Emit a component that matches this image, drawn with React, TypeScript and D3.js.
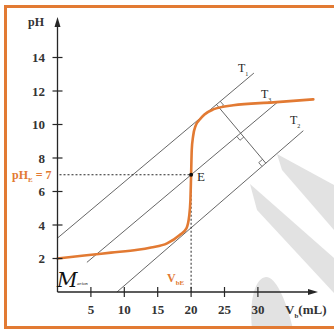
import React from "react";
import * as d3 from "d3";

// ---- data ----
const curveV = [0, 4, 8, 12, 14, 16.4, 18.3, 19.3, 19.7, 19.9, 20, 20.1, 20.3, 20.7, 21.3, 22, 23.3, 26.3, 32.3, 38.3];
const curvePH = [2.0, 2.18, 2.35, 2.52, 2.66, 2.9, 3.4, 3.8, 4.5, 5.5, 7, 8.5, 9.3, 9.95, 10.3, 10.6, 10.9, 11.15, 11.32, 11.5];
const yTicks = [2, 4, 6, 8, 10, 12, 14];
const xTicks = [5, 10, 15, 20, 25, 30];
const tangentNames = ["1", "3", "2"];
const tangentStart = [[0, 3.22], [4.4, 1.77], [8.9, 0]]; // T1, T3, T2
const tangentEnd = [[29.4, 13.07], [32.9, 11.32], [36.8, 9.63]];
const eqV = 20;
const eqPH = 7;
const tangentFootV = 23.8; // point on T1 where the perpendicular starts

const W = 334, H = 329;
const ORANGE = "#e27a33";
const INK = "#262626";

export default function App() {
  const x = d3.scaleLinear().domain([0, 30]).range([57.5, 257.9]);
  const y = d3.scaleLinear().domain([0, 14]).range([292, 57.5]);
  const pts: [number, number][] = curveV.map((v, i) => [v, curvePH[i]]);
  const line = d3.line<[number, number]>().x(d => x(d[0])).y(d => y(d[1])).curve(d3.curveMonotoneX);

  const x0 = x(0), y0 = y(0);

  const tl = tangentStart.map((s, i) => ({ a: [x(s[0]), y(s[1])], b: [x(tangentEnd[i][0]), y(tangentEnd[i][1])] }));
  const t1 = tl[0];
  const dx = t1.b[0] - t1.a[0], dy = t1.b[1] - t1.a[1];
  const len = Math.hypot(dx, dy);
  const d = [dx / len, dy / len];
  const n = [-d[1], d[0]];
  const tFoot = (x(tangentFootV) - t1.a[0]) / dx;
  const P1 = [t1.a[0] + dx * tFoot, t1.a[1] + dy * tFoot];
  const proj = (l: any) => {
    const ex = l.b[0] - l.a[0], ey = l.b[1] - l.a[1];
    const det = n[0] * (-ey) - n[1] * (-ex);
    const rx = l.a[0] - P1[0], ry = l.a[1] - P1[1];
    const s = (rx * (-ey) - ry * (-ex)) / det;
    return [P1[0] + n[0] * s, P1[1] + n[1] * s];
  };
  const P3 = proj(tl[1]);
  const P2 = proj(tl[2]);
  const sq = 5;
  const square = (p: number[], sd: number, sn: number) => {
    const a = [p[0] + d[0] * sq * sd, p[1] + d[1] * sq * sd];
    const c = [p[0] + n[0] * sq * sn, p[1] + n[1] * sq * sn];
    const b = [a[0] + n[0] * sq * sn, a[1] + n[1] * sq * sn];
    return `M${a[0]},${a[1]}L${b[0]},${b[1]}L${c[0]},${c[1]}`;
  };

  const font = "'Liberation Serif', 'DejaVu Serif', serif";
  const labelPos = [[238, 72], [261, 98], [290, 124]];

  return (
    <svg width={W} height={H} style={{ position: "absolute", left: 0, top: 0, background: "#fff" }} fontFamily={font}>
      {/* watermark */}
      <g fill="#e2e2e2">
        <path d="M277,154 L334,185 L334,230 L282,170 Z" />
        <path d="M250,184 L334,258 L334,293 L257,210 Z" />
        <path d="M252,329 C249,300 255,278 266,277 C276,277 286,300 293,329 Z" />
      </g>
      {/* frame */}
      <rect x={5.5} y={6.5} width={340} height={321} fill="none" stroke={ORANGE} strokeWidth={3} />

      {/* tangent lines */}
      {tl.map((l, i) => (
        <line key={i} x1={l.a[0]} y1={l.a[1]} x2={l.b[0]} y2={l.b[1]} stroke="#555" strokeWidth={0.9} />
      ))}
      <line x1={P1[0]} y1={P1[1]} x2={P2[0]} y2={P2[1]} stroke="#555" strokeWidth={0.9} />
      <path d={square(P1, 1, 1)} fill="none" stroke="#555" strokeWidth={0.8} />
      <path d={square(P3, -1, 1)} fill="none" stroke="#555" strokeWidth={0.8} />
      <path d={square(P2, -1, -1)} fill="none" stroke="#555" strokeWidth={0.8} />
      {tangentNames.map((t, i) => (
        <text key={t} x={labelPos[i][0]} y={labelPos[i][1]} fontSize={12} fill={INK}>
          T<tspan fontSize={6} dy={4}>{t}</tspan>
        </text>
      ))}

      {/* dashed guides */}
      <line x1={x0 + 2} y1={y(eqPH)} x2={x(eqV)} y2={y(eqPH)} stroke={INK} strokeWidth={1} strokeDasharray="2,2" />
      <line x1={x(eqV)} y1={y(eqPH)} x2={x(eqV)} y2={y0} stroke={INK} strokeWidth={1} strokeDasharray="2,2" />

      {/* titration curve */}
      <path d={line(pts) || ""} fill="none" stroke={ORANGE} strokeWidth={2.6} strokeLinecap="round" />
      <circle cx={x(eqV)} cy={y(eqPH)} r={2} fill="#111" />
      <text x={x(eqV) + 6} y={y(eqPH) + 6} fontSize={13} fill={INK}>E</text>

      {/* axes */}
      <line x1={x0} y1={y0} x2={x0} y2={24} stroke={INK} strokeWidth={1.3} />
      <path d={`M${x0},17 L${x0 - 3},27 L${x0 + 3},27 Z`} fill={INK} />
      <line x1={x0} y1={y0} x2={311} y2={y0} stroke={INK} strokeWidth={1.3} />
      <path d={`M318,${y0} L308,${y0 - 3} L308,${y0 + 3} Z`} fill={INK} />
      {yTicks.map(t => (
        <g key={t}>
          <line x1={x0 - 5} x2={x0 + 5} y1={y(t)} y2={y(t)} stroke={INK} strokeWidth={1.2} />
          <text x={45} y={y(t)} dy="0.35em" textAnchor="end" fontSize={13} fontWeight="bold" fill="#333">{t}</text>
        </g>
      ))}
      {xTicks.map(t => (
        <g key={t}>
          <line x1={x(t)} x2={x(t)} y1={y0 - 5} y2={y0 + 5} stroke={INK} strokeWidth={1.2} />
          <text x={x(t)} y={314} textAnchor="middle" fontSize={13} fontWeight="bold" fill="#333">{t}</text>
        </g>
      ))}
      <text x={36} y={26} textAnchor="middle" fontSize={12} fontWeight="bold" fill="#333">pH</text>
      <text x={285} y={314} fontSize={13} fontWeight="bold" fill="#333">
        V<tspan fontSize={7} dy={4}>b</tspan><tspan dy={-4}>(mL)</tspan>
      </text>

      {/* orange annotations */}
      <text x={12} y={179} fontSize={12} fontWeight="bold" fill={ORANGE}>
        pH<tspan fontSize={7} dy={3}>E</tspan><tspan dy={-3}> = 7</tspan>
      </text>
      <text x={167} y={282} fontSize={12} fontWeight="bold" fill={ORANGE}>
        V<tspan fontSize={7} dy={3}>bE</tspan>
      </text>

      {/* signature */}
      <text x={57} y={287} fontSize={20} fontStyle="italic" fill="#111" fontFamily="'DejaVu Serif', serif">M</text>
      <text x={77} y={285} fontSize={5} fontStyle="italic" fill="#111">arion</text>
    </svg>
  );
}
